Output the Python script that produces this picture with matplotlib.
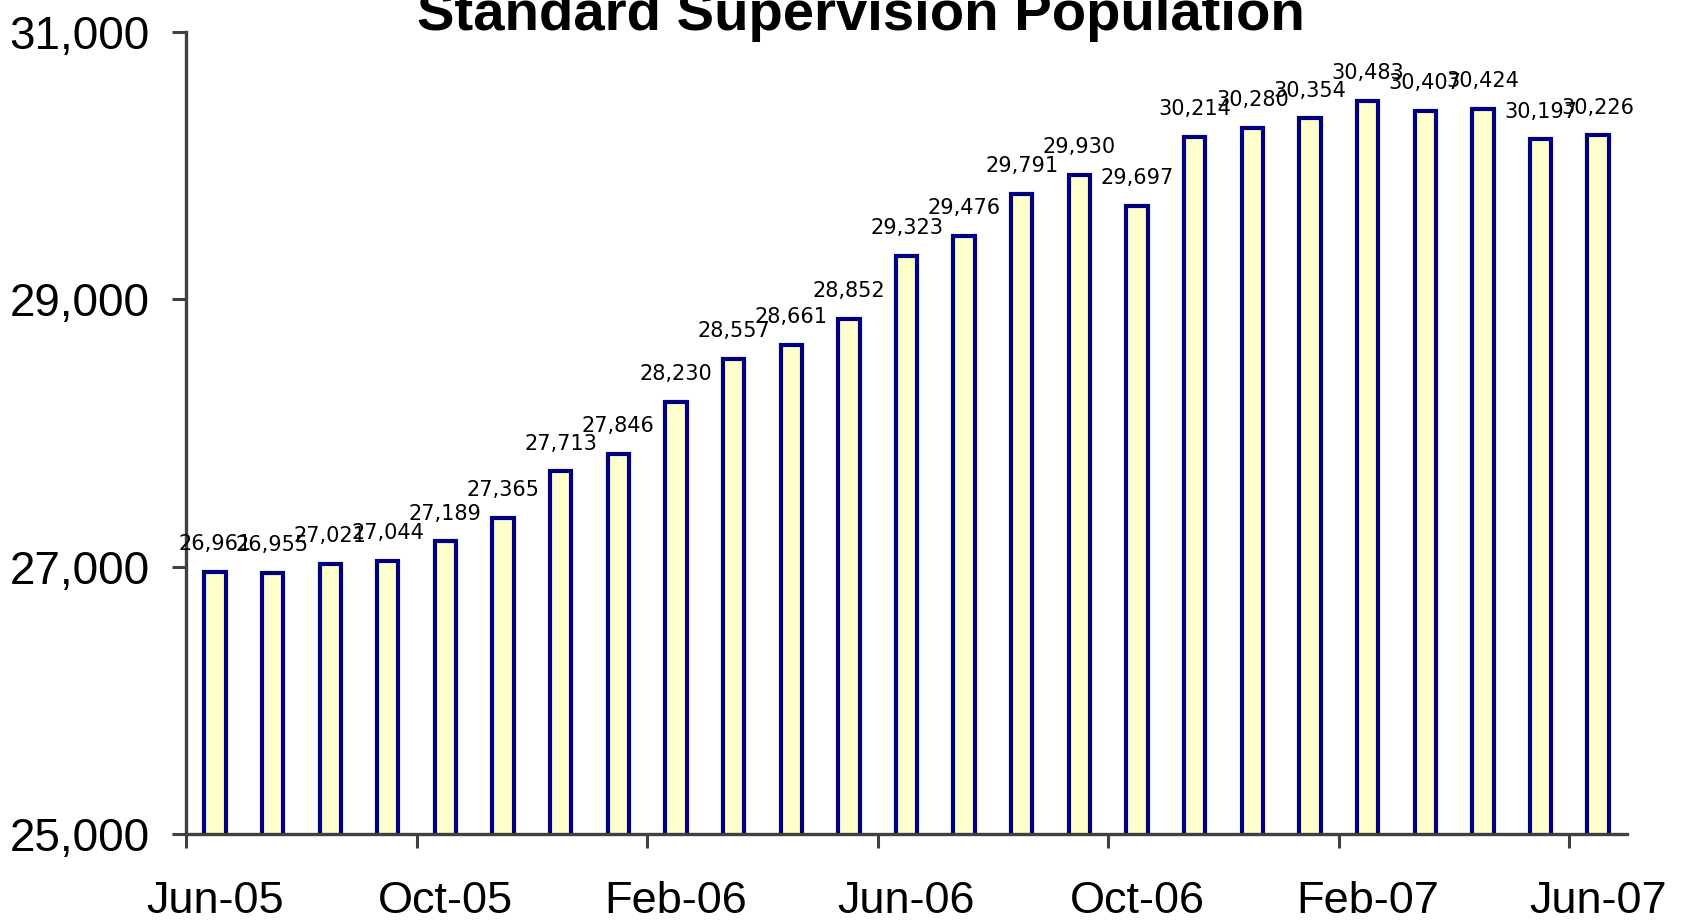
import matplotlib
matplotlib.use("Agg")
import matplotlib.pyplot as plt
import numpy as np

months = ["Jun-05", "Jul-05", "Aug-05", "Sep-05", "Oct-05", "Nov-05", "Dec-05",
          "Jan-06", "Feb-06", "Mar-06", "Apr-06", "May-06", "Jun-06", "Jul-06",
          "Aug-06", "Sep-06", "Oct-06", "Nov-06", "Dec-06", "Jan-07", "Feb-07",
          "Mar-07", "Apr-07", "May-07", "Jun-07"]
population = [26961, 26955, 27021, 27044, 27189, 27365, 27713, 27846, 28230,
              28557, 28661, 28852, 29323, 29476, 29791, 29930, 29697, 30214,
              30280, 30354, 30483, 30407, 30424, 30197, 30226]
tick_labels = ["Jun-05", "Oct-05", "Feb-06", "Jun-06", "Oct-06", "Feb-07", "Jun-07"]
y_ticks = [25000, 27000, 29000, 31000]
title = "Standard Supervision Population"

plt.rcParams['font.family'] = ['Liberation Sans', 'DejaVu Sans']

fig = plt.figure(figsize=(16.87, 9.22), dpi=100)
ax = fig.add_axes([0.1103, 0.0954, 0.9644 - 0.1103, 0.9653 - 0.0954])

x = np.arange(len(months))
ax.bar(x, population, width=0.37, bottom=0, color="#FFFFCC",
       edgecolor="#000080", linewidth=3.0, zorder=2)

for xi, v in zip(x, population):
    ax.annotate(f"{v:,}", (xi, v), xytext=(0, 20), textcoords="offset points",
                ha="center", va="center", fontsize=15, family="DejaVu Sans",
                color="black")

ax.set_xlim(-0.5, len(months) - 0.5)
ax.set_ylim(25000, 31000)

# major ticks at category boundaries (no labels), labels at category centres
pos = [months.index(t) for t in tick_labels]
ax.set_xticks([p - 0.5 for p in pos])
ax.set_xticklabels([])
ax.set_xticks(pos, minor=True)
ax.set_xticklabels(tick_labels, minor=True)
ax.tick_params(axis="x", which="major", direction="out", length=10, width=2.2,
               color="#404040")
ax.tick_params(axis="x", which="minor", length=0, pad=34, labelsize=32.5)

ax.set_yticks(y_ticks)
ax.set_yticklabels([f"{t:,}" for t in y_ticks])
ax.tick_params(axis="y", direction="out", length=10, width=2.2, color="#404040",
               pad=16, labelsize=33)

for s in ["top", "right"]:
    ax.spines[s].set_visible(False)
for s in ["left", "bottom"]:
    ax.spines[s].set_color("#404040")
    ax.spines[s].set_linewidth(2.4)

fig.text(861 / 1687, 1 - 30 / 922, title, ha="center", va="baseline",
         fontsize=40.5, fontweight="bold")

fig.savefig("out.png", dpi=100)
